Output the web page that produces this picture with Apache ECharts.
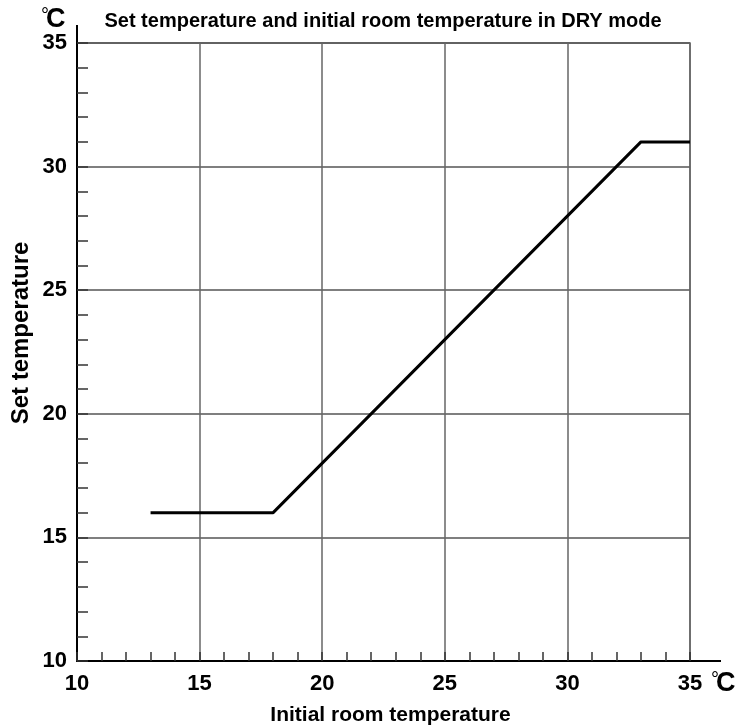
<!DOCTYPE html>
<html>
<head>
<meta charset="utf-8">
<script src="https://cdn.jsdelivr.net/npm/echarts@6/dist/echarts.min.js"></script>
<style>
  html, body { margin: 0; padding: 0; background: #fff; }
  #chart { width: 747px; height: 727px; }
</style>
</head>
<body>
<div id="chart"></div>
<script>
// initial room temperature -> set temperature (DRY mode)
const roomTemp = [13, 18, 33, 35];
const setTemp = [16, 16, 31, 31];
const xTicks = [10, 15, 20, 25, 30, 35];
const yTicks = [10, 15, 20, 25, 30, 35];

const FONT = '"Liberation Sans", Arial, sans-serif';

const chart = echarts.init(document.getElementById('chart'));

// degree sign small, C large
const unitRich = {
  d: { fontFamily: FONT, fontSize: 20, color: '#000', verticalAlign: 'top', padding: [0, 0, 8, 0] },
  c: { fontFamily: FONT, fontSize: 27, fontWeight: 'bold', color: '#000', padding: [0, 0, 0, -3] }
};

const option = {
  animation: false,
  backgroundColor: '#fff',
  textStyle: { fontFamily: FONT },
  title: {
    text: 'Set temperature and initial room temperature in DRY mode',
    left: 378,
    top: 6,
    textAlign: 'center',
    textStyle: { fontFamily: FONT, fontWeight: 'bold', fontSize: 20, color: '#000' }
  },
  grid: {
    left: 77, right: 57, top: 43, bottom: 66,
    show: true,
    borderColor: '#666',
    borderWidth: 1.5,
    containLabel: false,
    outerBoundsMode: 'none'
  },
  xAxis: {
    type: 'value',
    min: xTicks[0], max: xTicks[xTicks.length - 1], interval: 5,
    name: 'Initial room temperature',
    nameLocation: 'middle',
    nameGap: 44,
    nameMoveOverlap: false,
    nameTextStyle: { fontFamily: FONT, fontWeight: 'bold', fontSize: 21, color: '#000', padding: [0, 0, 0, 14] },
    axisLine: { show: true, lineStyle: { color: '#000', width: 2 } },
    axisTick: { show: true, inside: true, length: 9, lineStyle: { color: '#333', width: 1.5 } },
    minorTick: { show: true, splitNumber: 5, length: 9, lineStyle: { color: '#333', width: 1.5 } },
    splitLine: { show: true, lineStyle: { color: '#666', width: 1.5 } },
    axisLabel: { fontFamily: FONT, fontWeight: 'bold', fontSize: 22, color: '#000', margin: 12 }
  },
  yAxis: {
    type: 'value',
    min: yTicks[0], max: yTicks[yTicks.length - 1], interval: 5,
    name: 'Set temperature',
    nameLocation: 'middle',
    nameGap: 44,
    nameMoveOverlap: false,
    nameRotate: 90,
    nameTextStyle: { fontFamily: FONT, fontWeight: 'bold', fontSize: 24, color: '#000', padding: [0, 0, 0, 38] },
    axisLine: { show: true, lineStyle: { color: '#000', width: 2 } },
    axisTick: { show: true, inside: true, length: 11, lineStyle: { color: '#333', width: 1.5 } },
    minorTick: { show: true, splitNumber: 5, length: 11, lineStyle: { color: '#333', width: 1.5 } },
    splitLine: { show: true, lineStyle: { color: '#555', width: 1.5 } },
    axisLabel: { fontFamily: FONT, fontWeight: 'bold', fontSize: 22, color: '#000', margin: 10 }
  },
  graphic: [
    // axis lines extend past the plot frame
    { type: 'line', shape: { x1: 77, y1: 25, x2: 77, y2: 43 }, style: { stroke: '#000', lineWidth: 2 } },
    { type: 'line', shape: { x1: 690, y1: 661, x2: 721, y2: 661 }, style: { stroke: '#000', lineWidth: 2 } },
    { type: 'text', left: 41, top: 6, style: { text: '{d|°}{c|C}', rich: unitRich } },
    { type: 'text', left: 711, top: 670, style: { text: '{d|°}{c|C}', rich: unitRich } }
  ],
  series: [{
    type: 'line',
    data: roomTemp.map((x, i) => [x, setTemp[i]]),
    showSymbol: false,
    lineStyle: { color: '#000', width: 3 },
    z: 5
  }]
};

chart.setOption(option);
</script>
</body>
</html>
